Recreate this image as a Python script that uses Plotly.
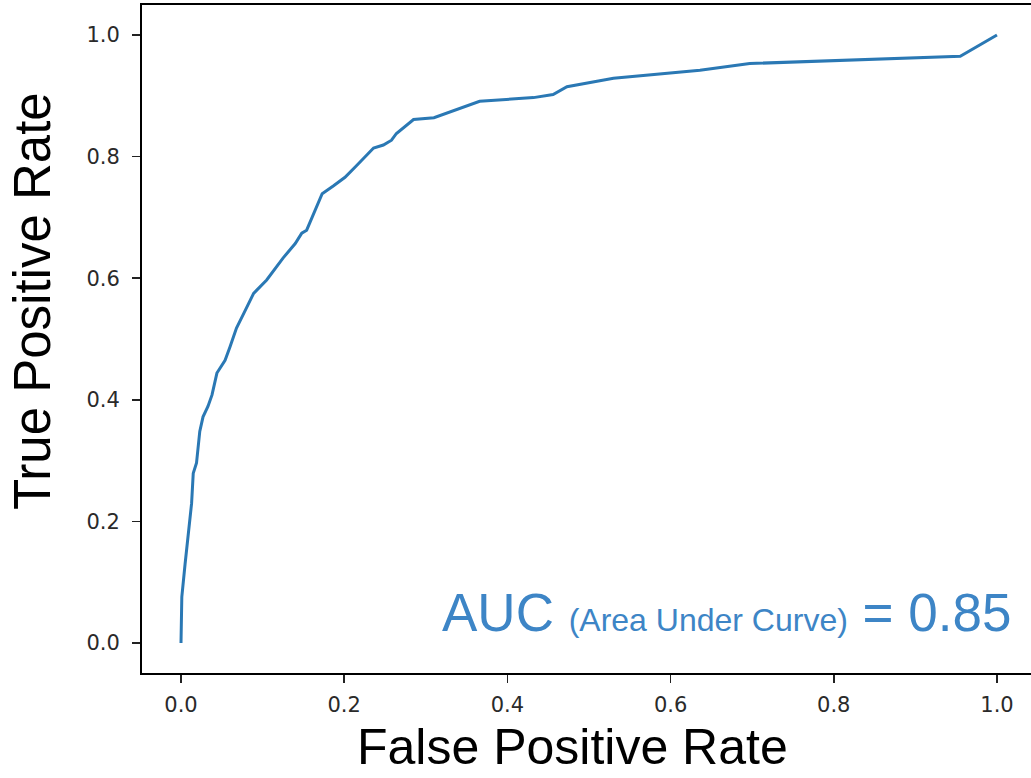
import plotly.graph_objects as go

fpr = [0.000, 0.001, 0.005, 0.010, 0.013, 0.015, 0.019, 0.023, 0.027, 0.033,
       0.038, 0.044, 0.054, 0.060, 0.068, 0.078, 0.089, 0.105, 0.125, 0.140,
       0.148, 0.154, 0.164, 0.173, 0.187, 0.201, 0.215, 0.236, 0.248, 0.258,
       0.264, 0.285, 0.310, 0.330, 0.366, 0.432, 0.456, 0.473, 0.530, 0.636,
       0.697, 0.955, 1.000]
tpr = [0.000, 0.076, 0.130, 0.190, 0.230, 0.279, 0.296, 0.348, 0.372, 0.389,
       0.408, 0.444, 0.465, 0.487, 0.518, 0.545, 0.575, 0.597, 0.633, 0.657,
       0.674, 0.679, 0.709, 0.739, 0.752, 0.766, 0.785, 0.814, 0.819, 0.827,
       0.838, 0.861, 0.864, 0.874, 0.891, 0.897, 0.902, 0.915, 0.929, 0.942,
       0.953, 0.965, 1.000]

tick_vals = [0.0, 0.2, 0.4, 0.6, 0.8, 1.0]
tick_text = ["0.0", "0.2", "0.4", "0.6", "0.8", "1.0"]

x_title = "False Positive Rate"
y_title = "True Positive Rate"
auc_value = 0.85

fig = go.Figure()
fig.add_trace(go.Scatter(x=fpr, y=tpr, mode="lines",
                         line=dict(color="#2a78b4", width=3),
                         hoverinfo="skip", showlegend=False))

axis_common = dict(
    showgrid=False, zeroline=False, showline=True, linecolor="black",
    linewidth=2, ticks="outside", ticklen=8, tickwidth=1.5, tickcolor="#222",
    tickvals=tick_vals, ticktext=tick_text,
    tickfont=dict(family="DejaVu Sans", size=21, color="#2a2a2a"),
)

fig.update_xaxes(range=[-0.0478, 1.0417], mirror=True, ticklabelstandoff=4,
                 **axis_common)
fig.update_yaxes(range=[-0.0493, 1.0493], mirror=False, ticklabelstandoff=8,
                 **axis_common)

fig.add_annotation(text=y_title, xref="paper", yref="paper",
                   x=-0.1226, y=0.557, textangle=-90, showarrow=False,
                   xanchor="center", yanchor="middle",
                   font=dict(family="Liberation Sans", size=51, color="black"))
fig.add_annotation(text=x_title, xref="paper", yref="paper",
                   x=0.4837, y=-0.1115, showarrow=False,
                   xanchor="center", yanchor="middle",
                   font=dict(family="Liberation Sans", size=50, color="black"))
fig.add_annotation(
    text=("AUC <span style='font-size:32px'>(Area Under Curve)</span> = "
          + f"{auc_value:.2f}"),
    xref="paper", yref="paper", x=0.9798, y=0.091, showarrow=False,
    xanchor="right", yanchor="middle",
    font=dict(family="Liberation Sans", size=53, color="#3d85c6"))

fig.update_layout(width=1031, height=778,
                  margin=dict(l=142, r=0, t=5, b=105),
                  paper_bgcolor="white", plot_bgcolor="white")

fig.write_html("out.html",
               config={"displayModeBar": False, "staticPlot": True},
               post_script="document.body.style.margin='0';"
                           "document.body.style.overflow='hidden';")
